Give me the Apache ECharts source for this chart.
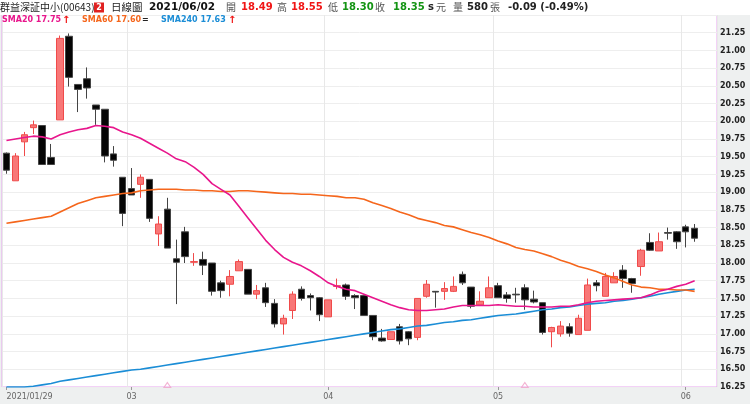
<!DOCTYPE html>
<html>
<head>
<meta charset="utf-8">
<script src="https://cdn.jsdelivr.net/npm/echarts@6/dist/echarts.min.js"></script>
<style>
html, body { margin: 0; padding: 0; background: #fff; }
#main { width: 750px; height: 404px; }
</style>
</head>
<body>
<div id="main"></div>
<script>
// 交易日
const dates = [
  '2021/01/29',
  '2021/02/01', '2021/02/02', '2021/02/03', '2021/02/04', '2021/02/05',
  '2021/02/17', '2021/02/18', '2021/02/19', '2021/02/22', '2021/02/23', '2021/02/24', '2021/02/25', '2021/02/26',
  '2021/03/02', '2021/03/03', '2021/03/04', '2021/03/05', '2021/03/08', '2021/03/09', '2021/03/10', '2021/03/11',
  '2021/03/12', '2021/03/15', '2021/03/16', '2021/03/17', '2021/03/18', '2021/03/19', '2021/03/22', '2021/03/23',
  '2021/03/24', '2021/03/25', '2021/03/26', '2021/03/29', '2021/03/30', '2021/03/31',
  '2021/04/06', '2021/04/07', '2021/04/08', '2021/04/09', '2021/04/12', '2021/04/13', '2021/04/14', '2021/04/15',
  '2021/04/16', '2021/04/19', '2021/04/20', '2021/04/21', '2021/04/22', '2021/04/23', '2021/04/26', '2021/04/27',
  '2021/04/28', '2021/04/29', '2021/04/30',
  '2021/05/03', '2021/05/04', '2021/05/05', '2021/05/06', '2021/05/07', '2021/05/10', '2021/05/11', '2021/05/12',
  '2021/05/13', '2021/05/14', '2021/05/17', '2021/05/18', '2021/05/19', '2021/05/20', '2021/05/21', '2021/05/24',
  '2021/05/25', '2021/05/26', '2021/05/27', '2021/05/28', '2021/05/31',
  '2021/06/01', '2021/06/02'
]
// 右側留白兩格
const padSlots = ['', '']
// x 軸顯示標籤的位置
const labelIdx = [0, 14, 36, 55, 76]

// [開, 收, 低, 高]
const kline = [
  [19.55, 19.31, 19.26, 19.56], [19.16, 19.51, 19.16, 19.55], [19.71, 19.81, 19.51, 19.85], [19.91, 19.95, 19.82, 20.01],
  [19.94, 19.39, 19.39, 19.94], [19.49, 19.39, 19.39, 19.68], [20.02, 21.17, 20.02, 21.21], [21.20, 20.62, 20.49, 21.24],
  [20.52, 20.45, 20.13, 20.52], [20.60, 20.47, 20.32, 20.76], [20.23, 20.17, 19.95, 20.23], [20.17, 19.51, 19.42, 20.17],
  [19.54, 19.45, 19.36, 19.65], [19.21, 18.70, 18.52, 19.21], [19.05, 18.96, 18.96, 19.34], [19.11, 19.21, 18.92, 19.25],
  [19.18, 18.63, 18.58, 19.18], [18.41, 18.55, 18.24, 18.66], [18.76, 18.21, 18.21, 18.92], [18.06, 18.01, 17.42, 18.33],
  [18.44, 18.09, 18.00, 18.51], [18.01, 18.02, 17.96, 18.14], [18.05, 17.97, 17.83, 18.16], [18.00, 17.60, 17.54, 18.00],
  [17.72, 17.61, 17.51, 17.75], [17.70, 17.81, 17.53, 17.90], [17.89, 18.02, 17.89, 18.05], [17.91, 17.56, 17.56, 17.91],
  [17.56, 17.61, 17.49, 17.69], [17.65, 17.44, 17.38, 17.72], [17.43, 17.14, 17.09, 17.49], [17.14, 17.22, 16.99, 17.27],
  [17.33, 17.56, 17.21, 17.60], [17.63, 17.50, 17.47, 17.67], [17.54, 17.51, 17.33, 17.57], [17.51, 17.27, 17.18, 17.52],
  [17.24, 17.48, 17.24, 17.48], [17.67, 17.68, 17.63, 17.78], [17.69, 17.53, 17.48, 17.71], [17.54, 17.51, 17.35, 17.56],
  [17.54, 17.26, 17.26, 17.54], [17.26, 16.96, 16.91, 17.26], [16.94, 16.90, 16.89, 17.07], [16.92, 17.03, 16.92, 17.03],
  [17.10, 16.90, 16.85, 17.14], [17.03, 16.93, 16.84, 17.04], [16.95, 17.50, 16.91, 17.50], [17.53, 17.70, 17.51, 17.76],
  [17.60, 17.59, 17.37, 17.60], [17.60, 17.64, 17.48, 17.73], [17.60, 17.67, 17.59, 17.81], [17.84, 17.72, 17.69, 17.88],
  [17.66, 17.39, 17.36, 17.66], [17.41, 17.46, 17.41, 17.60], [17.51, 17.65, 17.51, 17.81], [17.68, 17.51, 17.51, 17.72],
  [17.55, 17.50, 17.44, 17.59], [17.56, 17.55, 17.44, 17.65], [17.65, 17.48, 17.34, 17.70], [17.49, 17.45, 17.43, 17.61],
  [17.44, 17.02, 16.99, 17.44], [17.03, 17.09, 16.81, 17.10], [17.00, 17.11, 16.96, 17.18], [17.10, 17.01, 16.96, 17.15],
  [16.99, 17.22, 16.99, 17.27], [17.05, 17.69, 17.05, 17.78], [17.72, 17.68, 17.60, 17.76], [17.53, 17.81, 17.53, 17.86],
  [17.72, 17.81, 17.72, 17.87], [17.90, 17.78, 17.65, 17.97], [17.78, 17.71, 17.58, 17.79], [17.95, 18.18, 17.82, 18.20],
  [18.29, 18.18, 18.17, 18.42], [18.17, 18.30, 18.17, 18.43], [18.43, 18.42, 18.33, 18.50], [18.44, 18.30, 18.20, 18.45],
  [18.51, 18.44, 18.22, 18.54], [18.49, 18.35, 18.30, 18.55]
]

const sma20 = [
  19.73, 19.75, 19.77, 19.79, 19.78, 19.75, 19.81, 19.85, 19.88, 19.90,
  19.94, 19.93, 19.91, 19.85, 19.81, 19.76, 19.69, 19.62, 19.55, 19.47,
  19.43, 19.35, 19.25, 19.12, 19.04, 18.96, 18.80, 18.64, 18.48, 18.32,
  18.19, 18.08, 18.01, 17.96, 17.89, 17.81, 17.72, 17.67, 17.63, 17.61,
  17.56, 17.51, 17.46, 17.41, 17.37, 17.34, 17.33, 17.33, 17.34, 17.35,
  17.38, 17.40, 17.40, 17.40, 17.40, 17.41, 17.40, 17.39, 17.39, 17.38,
  17.38, 17.38, 17.39, 17.39, 17.41, 17.44, 17.46, 17.47, 17.48, 17.49,
  17.50, 17.51, 17.55, 17.60, 17.63, 17.67, 17.70, 17.75
]
const sma60 = [
  18.56, 18.58, 18.60, 18.62, 18.64, 18.66, 18.72, 18.78, 18.84, 18.88,
  18.92, 18.94, 18.96, 18.98, 18.99, 19.02, 19.03, 19.04, 19.04, 19.04,
  19.03, 19.03, 19.02, 19.02, 19.01, 19.01, 19.02, 19.02, 19.01, 19.00,
  18.99, 18.98, 18.98, 18.97, 18.97, 18.96, 18.95, 18.94, 18.92, 18.92,
  18.90, 18.85, 18.81, 18.77, 18.72, 18.68, 18.63, 18.60, 18.57, 18.53,
  18.51, 18.47, 18.43, 18.40, 18.36, 18.31, 18.27, 18.22, 18.19, 18.17,
  18.13, 18.09, 18.04, 18.00, 17.95, 17.92, 17.88, 17.83, 17.79, 17.74,
  17.69, 17.66, 17.65, 17.63, 17.63, 17.62, 17.62, 17.60
]
const sma240 = [
  16.25, 16.25, 16.25, 16.26, 16.28, 16.30, 16.33, 16.35, 16.37, 16.39,
  16.41, 16.43, 16.45, 16.47, 16.49, 16.50, 16.52, 16.54, 16.56, 16.58,
  16.60, 16.62, 16.64, 16.66, 16.68, 16.70, 16.72, 16.74, 16.76, 16.78,
  16.80, 16.82, 16.84, 16.86, 16.88, 16.90, 16.92, 16.94, 16.96, 16.98,
  17.00, 17.02, 17.04, 17.06, 17.07, 17.09, 17.11, 17.12, 17.14, 17.16,
  17.17, 17.19, 17.20, 17.22, 17.24, 17.26, 17.27, 17.28, 17.30, 17.32,
  17.34, 17.35, 17.37, 17.38, 17.40, 17.42, 17.43, 17.44, 17.46, 17.47,
  17.49, 17.51, 17.53, 17.56, 17.58, 17.60, 17.62, 17.63
]
// 除息標記
const markIdx = [18, 58]

const LATIN = '"DejaVu Sans"'
const CJK = '"Noto Sans CJK TC"'
const RED = '#f01515'
const GREEN = '#149414'

function txt(x, y, text, fill, font) {
  return { type: 'text', z: 100, style: { x: x, y: y, text: text, fill: fill, font: font, verticalAlign: 'middle' } }
}

const header = [
  { type: 'rect', z: 90, shape: { x: 0, y: 0, width: 750, height: 15 }, style: { fill: '#fff' } },
  txt(0, 7.5, '群益深証中小(00643)', '#222', '10px ' + CJK),
  { type: 'rect', z: 95, shape: { x: 94, y: 2.5, width: 10, height: 10 }, style: { fill: '#e02020' } },
  { type: 'text', z: 100, style: { x: 99, y: 7.5, text: '2', fill: '#fff', font: 'bold 8px ' + LATIN, align: 'center', verticalAlign: 'middle' } },
  txt(111, 7.5, '日線圖', '#222', '10.5px ' + CJK),
  txt(149, 7.5, '2021/06/02', '#111', 'bold 10.5px ' + LATIN),
  txt(226, 7.5, '開', '#555', '10px ' + CJK),
  txt(241, 7.5, '18.49', RED, 'bold 10px ' + LATIN),
  txt(277, 7.5, '高', '#555', '10px ' + CJK),
  txt(291, 7.5, '18.55', RED, 'bold 10px ' + LATIN),
  txt(328, 7.5, '低', '#555', '10px ' + CJK),
  txt(342, 7.5, '18.30', GREEN, 'bold 10px ' + LATIN),
  txt(375, 7.5, '收', '#555', '10px ' + CJK),
  txt(393, 7.5, '18.35', GREEN, 'bold 10px ' + LATIN),
  txt(428, 7.5, 's', '#222', 'bold 10px ' + LATIN),
  txt(436, 7.5, '元', '#555', '10px ' + CJK),
  txt(453, 7.5, '量', '#555', '10px ' + CJK),
  txt(467, 7.5, '580', '#222', 'bold 10px ' + LATIN),
  txt(490, 7.5, '張', '#555', '10px ' + CJK),
  txt(508, 7.5, '-0.09 (-0.49%)', '#222', 'bold 10px ' + LATIN),
  // 均線標示
  txt(2, 20, 'SMA20 17.75', '#e8168c', 'bold 8px ' + LATIN),
  txt(62, 20, '↑', RED, 'bold 10px ' + LATIN),
  txt(82, 20, 'SMA60 17.60', '#f5661c', 'bold 8px ' + LATIN),
  txt(142, 20, '=', '#222', 'bold 8px ' + LATIN),
  txt(161, 20, 'SMA240 17.63', '#1b8dd6', 'bold 8px ' + LATIN),
  txt(228, 20, '↑', RED, 'bold 10px ' + LATIN)
]

const showTick = function(i) { return labelIdx.indexOf(i) >= 0 }

const myChart = echarts.init(document.getElementById('main'))
myChart.setOption({
  animation: false,
  backgroundColor: '#eef0f0',
  graphic: header,
  grid: {
    left: 2, right: 33, top: 15, bottom: 17,
    show: true, backgroundColor: '#fff', borderColor: '#e6a4ee', borderWidth: 1
  },
  xAxis: {
    type: 'category',
    data: dates.concat(padSlots),
    boundaryGap: true,
    axisLine: { show: false },
    axisTick: { show: true, alignWithLabel: true, interval: showTick, length: 3, lineStyle: { color: '#999' } },
    axisLabel: {
      interval: showTick,
      alignMinLabel: 'left',
      formatter: function(v, i) { return i === 0 ? v : v.slice(5, 7) },
      color: '#666', fontSize: 8, fontFamily: 'DejaVu Sans', margin: 6
    },
    splitLine: { show: true, interval: showTick, lineStyle: { color: '#e8e8e8', width: 1 } }
  },
  yAxis: {
    type: 'value',
    position: 'right',
    min: 16.25,
    max: 21.5,
    interval: 0.25,
    axisLine: { show: false },
    axisTick: { show: false },
    axisLabel: {
      showMaxLabel: false,
      formatter: function(v) { return v.toFixed(2) },
      color: '#222', fontWeight: 'bold', fontSize: 8, fontFamily: 'DejaVu Sans', margin: 3
    },
    splitLine: { lineStyle: { color: '#eeeeee' } }
  },
  series: [
    {
      type: 'candlestick',
      data: kline,
      barWidth: 7,
      itemStyle: {
        color: '#f87777', borderColor: '#f04a4a',
        color0: '#050505', borderColor0: '#444',
        borderWidth: 1
      }
    },
    { type: 'line', data: sma240, symbol: 'none', lineStyle: { color: '#1b8dd6', width: 1.6 } },
    { type: 'line', data: sma60, symbol: 'none', lineStyle: { color: '#f5661c', width: 1.6 } },
    { type: 'line', data: sma20, symbol: 'none', lineStyle: { color: '#e8168c', width: 1.6 } },
    {
      type: 'scatter',
      data: markIdx.map(function(i) { return [i, 16.25] }),
      symbol: 'triangle',
      symbolSize: [7, 5],
      symbolOffset: [0, -2],
      itemStyle: { color: 'transparent', borderColor: '#f0a0c8', borderWidth: 1 }
    }
  ]
})
</script>
</body>
</html>
